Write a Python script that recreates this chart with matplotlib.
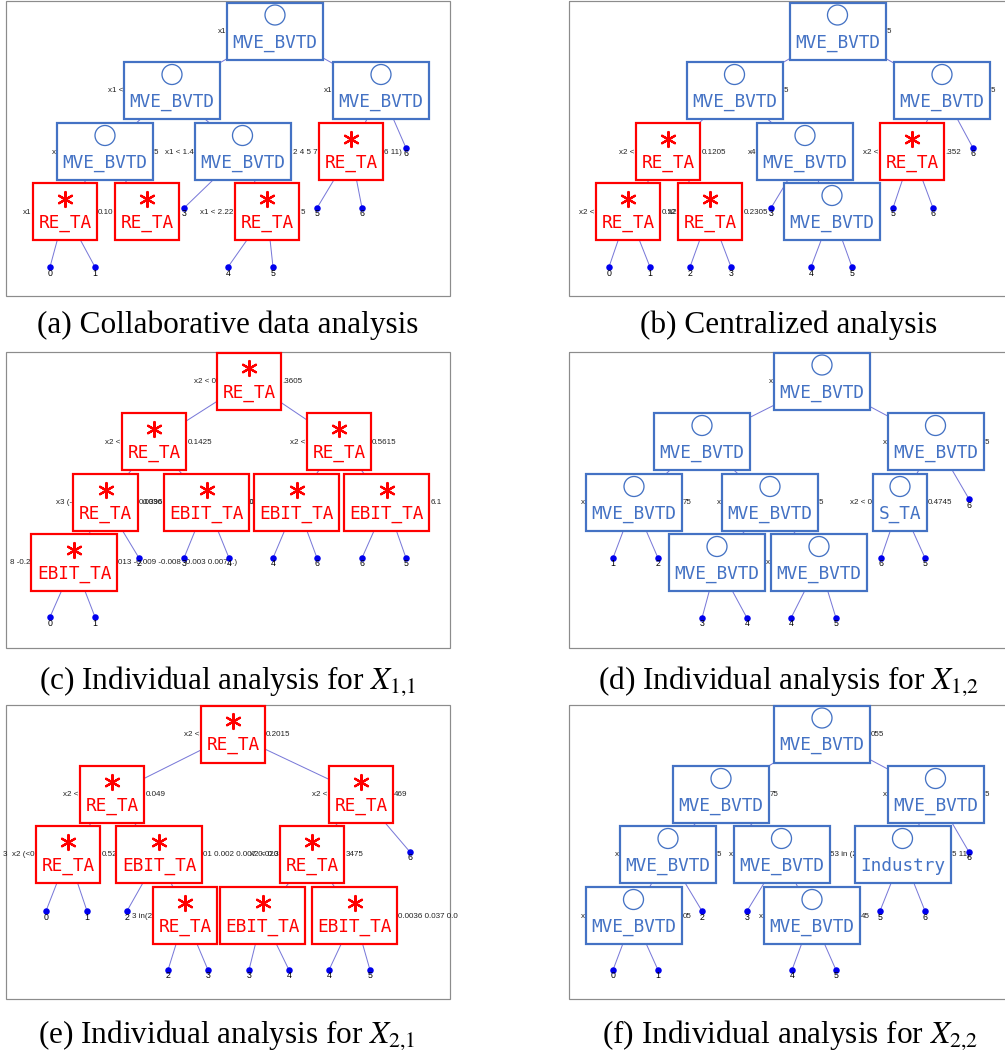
import matplotlib
matplotlib.use("Agg")
import matplotlib.pyplot as plt
from matplotlib.patches import Rectangle

# ---------------- DATA ----------------
captions = [
    "(a) Collaborative data analysis",
    "(b) Centralized analysis",
    r"(c) Individual analysis for $X_{1{,}1}$",
    r"(d) Individual analysis for $X_{1{,}2}$",
    r"(e) Individual analysis for $X_{2{,}1}$",
    r"(f) Individual analysis for $X_{2{,}2}$",
]

# panel (a)
a_labels = ["MVE_BVTD", "MVE_BVTD", "MVE_BVTD", "MVE_BVTD", "MVE_BVTD", "RE_TA", "RE_TA", "RE_TA", "RE_TA"]
a_parents = [-1, 0, 0, 1, 1, 2, 3, 3, 4]
a_split_l = ["x1", "x1 <", "x1", "x", "x1 < 1.4", "2 4 5 7", "x1", "", "x1 < 2.22"]
a_split_r = ["", "", "", "5", "", "6 11)", "0.10", "", "5"]
a_leaf_labels = ["6", "3", "5", "6", "0", "1", "4", "5"]
a_leaf_parents = [2, 4, 5, 5, 6, 6, 8, 8]

# panel (b)
b_labels = ["MVE_BVTD", "MVE_BVTD", "MVE_BVTD", "RE_TA", "MVE_BVTD", "RE_TA", "RE_TA", "RE_TA", "MVE_BVTD"]
b_parents = [-1, 0, 0, 1, 1, 2, 3, 3, 4]
b_split_l = ["", "", "", "x2 <", "x4", "x2 <", "x2 <", "x2", ""]
b_split_r = ["5", "5", "5", "0.1205", "", ".352", "0.52", "0.2305", ""]
b_leaf_labels = ["6", "3", "5", "6", "0", "1", "2", "3", "4", "5"]
b_leaf_parents = [2, 4, 5, 5, 6, 6, 7, 7, 8, 8]

# panel (c)
c_labels = ["RE_TA", "RE_TA", "RE_TA", "RE_TA", "EBIT_TA", "EBIT_TA", "EBIT_TA", "EBIT_TA"]
c_parents = [-1, 0, 0, 1, 1, 2, 2, 3]
c_split_l = ["x2 < 0", "x2 <", "x2 <", "x3 (-", "0.036", "0", "", "8 -0.2"]
c_split_r = [".3605", "0.1425", "0.5615", "0.0396", "0", "", "6.1", "013 -0.009 -0.008 -0.003 0.007...)"]
c_leaf_labels = ["2", "3", "4", "4", "6", "6", "5", "0", "1"]
c_leaf_parents = [3, 4, 4, 5, 5, 6, 6, 7, 7]

# panel (d)
d_labels = ["MVE_BVTD", "MVE_BVTD", "MVE_BVTD", "MVE_BVTD", "MVE_BVTD", "S_TA", "MVE_BVTD", "MVE_BVTD"]
d_parents = [-1, 0, 0, 1, 1, 2, 4, 4]
d_split_l = ["x", "", "x", "x", "x", "x2 < 0", "", "x"]
d_split_r = ["", "", "5", "75", "5", "0.4745", "", ""]
d_leaf_labels = ["6", "1", "2", "6", "5", "3", "4", "4", "5"]
d_leaf_parents = [2, 3, 3, 5, 5, 6, 6, 7, 7]

# panel (e)
e_labels = ["RE_TA", "RE_TA", "RE_TA", "RE_TA", "EBIT_TA", "RE_TA", "RE_TA", "EBIT_TA", "EBIT_TA"]
e_parents = [-1, 0, 0, 1, 1, 2, 4, 5, 5]
e_split_l = ["x2 <", "x2 <", "x2 <", "3  x2 (<0", "", "x2 < 0.3", "3 in(2", "", ""]
e_split_r = ["0.2015", "0.049", "469", "0.526", "01 0.002 0.007 0.020", "3475", "", "", "0.0036 0.037 0.0"]
e_leaf_labels = ["6", "0", "1", "2", "2", "3", "3", "4", "4", "5"]
e_leaf_parents = [2, 3, 3, 4, 6, 6, 7, 7, 8, 8]

# panel (f)
f_labels = ["MVE_BVTD", "MVE_BVTD", "MVE_BVTD", "MVE_BVTD", "MVE_BVTD", "Industry", "MVE_BVTD", "MVE_BVTD"]
f_parents = [-1, 0, 0, 1, 1, 2, 3, 4]
f_split_l = ["", "", "x", "x", "x", "", "x", "x"]
f_split_r = ["055", "75", "5", "5", "53 in (2", "5 11)", "05", "45"]
f_leaf_labels = ["6", "2", "3", "5", "6", "0", "1", "4", "5"]
f_leaf_parents = [2, 3, 4, 5, 5, 6, 6, 7, 7]

selected_vars = {"RE_TA", "EBIT_TA"}   # drawn red with asterisk

# ---------------- LAYOUT (pixel positions) ----------------
a_node_xy = [(275, 31), (172, 90.5), (381, 90.5), (105, 151.5), (242.5, 151.5), (351, 151.5),
             (65, 211.5), (147, 211.5), (267, 211.5)]
a_leaf_xy = [(406, 148), (184, 208), (317, 208), (362, 208), (50, 267), (95, 267), (228, 267), (273, 267)]

b_node_xy = [(837.5, 31), (734.5, 90.5), (942, 90.5), (668, 151.5), (805, 151.5), (912, 151.5),
             (628, 211.5), (710, 211.5), (832, 211.5)]
b_leaf_xy = [(973, 148), (771, 208), (893, 208), (933, 208), (609, 267), (650, 267), (690, 267),
             (731, 267), (811, 267), (852, 267)]

c_node_xy = [(249, 381), (154, 441.5), (339, 441.5), (105.5, 502.5), (206.5, 502.5), (296.5, 502.5),
             (386.5, 502.5), (74, 562.5)]
c_leaf_xy = [(139, 558), (184, 558), (229, 558), (273, 558), (317, 558), (362, 558), (406, 558),
             (50, 617), (95, 617)]

d_node_xy = [(822, 381), (702, 441.5), (935.5, 441.5), (634, 502.5), (770, 502.5), (900, 502.5),
             (717, 562.5), (819, 562.5)]
d_leaf_xy = [(969, 499), (613, 558), (658, 558), (881, 558), (925, 558), (702, 618), (747, 618),
             (791, 618), (836, 618)]

e_node_xy = [(233, 734), (112, 794.5), (361, 794.5), (68, 854.5), (159, 854.5), (312, 854.5),
             (185, 915.5), (262.5, 915.5), (354.5, 915.5)]
e_leaf_xy = [(410, 852), (46, 911), (87, 911), (127, 911), (168, 970), (208, 970), (249, 970),
             (289, 970), (329, 970), (370, 970)]

f_node_xy = [(822, 734), (721, 794.5), (935.5, 794.5), (668, 854.5), (781.5, 854.5), (902.5, 854.5),
             (633.5, 915.5), (812, 915.5)]
f_leaf_xy = [(969, 852), (702, 911), (747, 911), (880, 911), (925, 911), (613, 970), (658, 970),
             (792, 970), (836, 970)]

frames = [(6, 1, 450, 296), (569, 1, 1010, 296), (6, 352, 450, 648), (569, 352, 1010, 648),
          (6, 705, 450, 999), (569, 705, 1010, 999)]
caption_xy = [(228, 333), (789, 333), (228, 689), (789, 689), (227, 1043), (790, 1043)]

panels = [
    (a_labels, a_parents, a_split_l, a_split_r, a_leaf_labels, a_leaf_parents, a_node_xy, a_leaf_xy),
    (b_labels, b_parents, b_split_l, b_split_r, b_leaf_labels, b_leaf_parents, b_node_xy, b_leaf_xy),
    (c_labels, c_parents, c_split_l, c_split_r, c_leaf_labels, c_leaf_parents, c_node_xy, c_leaf_xy),
    (d_labels, d_parents, d_split_l, d_split_r, d_leaf_labels, d_leaf_parents, d_node_xy, d_leaf_xy),
    (e_labels, e_parents, e_split_l, e_split_r, e_leaf_labels, e_leaf_parents, e_node_xy, e_leaf_xy),
    (f_labels, f_parents, f_split_l, f_split_r, f_leaf_labels, f_leaf_parents, f_node_xy, f_leaf_xy),
]

# ---------------- STYLE ----------------
BLUE = "#4472C4"
RED = "#FF0000"
EDGE = "#7878D8"
DOT = "#0000EE"
PX = 0.72  # points per pixel at dpi 100
BOX_H = 57
CHAR_W = 10.5

plt.rcParams["mathtext.fontset"] = "stix"

fig = plt.figure(figsize=(10.05, 10.56), dpi=100)
ax = fig.add_axes([0, 0, 1, 1])
ax.set_xlim(0, 1005)
ax.set_ylim(1056, 0)
ax.axis("off")

for (x0, y0, x1, y1) in frames:
    ax.add_patch(Rectangle((x0, y0), x1 - x0, y1 - y0, fill=False, edgecolor="#8c8c8c",
                           linewidth=1.2 * PX, zorder=0))

for (cap, (cx, cy)) in zip(captions, caption_xy):
    ax.text(cx, cy, cap, ha="center", va="baseline", fontsize=22.5,
            family="Liberation Serif", color="black")

for (labels, parents, sl, sr, leaf_labels, leaf_parents, node_xy, leaf_xy) in panels:
    widths = [CHAR_W * len(l) + 12 for l in labels]
    # edges between nodes
    for i, p in enumerate(parents):
        if p >= 0:
            ax.plot([node_xy[p][0], node_xy[i][0]], [node_xy[p][1], node_xy[i][1]],
                    color=EDGE, linewidth=1.0 * PX, zorder=1)
    # edges to leaves
    for (lx, ly), p in zip(leaf_xy, leaf_parents):
        ax.plot([node_xy[p][0], lx], [node_xy[p][1], ly], color=EDGE, linewidth=1.0 * PX, zorder=1)
    # split texts
    for i, (cx, cy) in enumerate(node_xy):
        w = widths[i]
        if sl[i]:
            ax.text(cx - w / 2 - 1, cy + 0.5, sl[i], ha="right", va="center", fontsize=5.8,
                    family="Liberation Sans", color="#222222", zorder=2)
        if sr[i]:
            ax.text(cx + w / 2 + 1, cy + 0.5, sr[i], ha="left", va="center", fontsize=5.8,
                    family="Liberation Sans", color="#222222", zorder=2)
    # leaves
    lxs = [p[0] for p in leaf_xy]
    lys = [p[1] for p in leaf_xy]
    ax.scatter(lxs, lys, s=(6.5 * PX) ** 2, color=DOT, zorder=3, linewidths=0)
    for (lx, ly), t in zip(leaf_xy, leaf_labels):
        ax.text(lx, ly + 6, t, ha="center", va="center", fontsize=6.3,
                family="Liberation Sans", color="black", zorder=4)
    # boxes
    for i, (cx, cy) in enumerate(node_xy):
        w = widths[i]
        col = RED if labels[i] in selected_vars else BLUE
        ax.add_patch(Rectangle((cx - w / 2, cy - BOX_H / 2), w, BOX_H, facecolor="white",
                               edgecolor=col, linewidth=2.2 * PX, zorder=5))
        ax.text(cx, cy + 11.5, labels[i], ha="center", va="center", fontsize=12.8,
                family="DejaVu Sans Mono", color=col, zorder=6)
        if labels[i] in selected_vars:
            ax.scatter([cx], [cy - 13], marker=(6, 2, 0), s=(15 * PX) ** 2, color=col,
                       linewidths=2.2 * PX, zorder=6)
        else:
            ax.scatter([cx], [cy - 16], marker="o", s=(20 * PX) ** 2, facecolors="none",
                       edgecolors=col, linewidths=1.3 * PX, zorder=6)

fig.savefig("out.png", dpi=100)
